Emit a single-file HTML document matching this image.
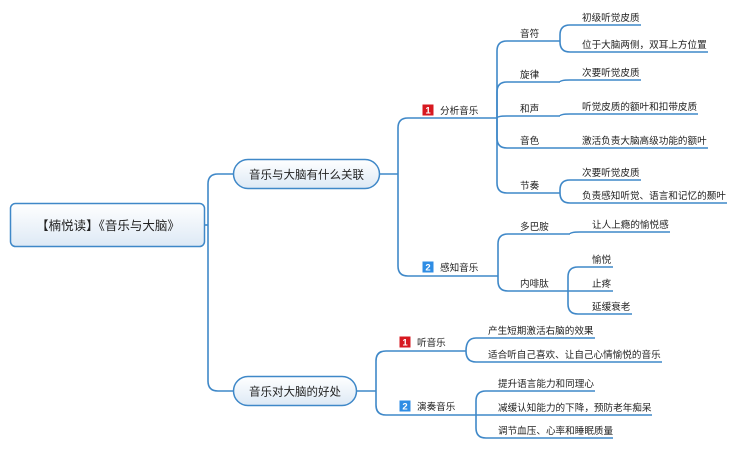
<!DOCTYPE html>
<html><head><meta charset="utf-8"><style>
html,body{margin:0;padding:0;background:#fff;width:738px;height:450px;overflow:hidden}
svg text{font-family:"Liberation Sans","Noto Sans CJK SC",sans-serif;fill:#222}
</style></head><body>
<svg width="738" height="450" viewBox="0 0 738 450" xmlns="http://www.w3.org/2000/svg">
<defs>
<linearGradient id="g" x1="0" y1="0" x2="0" y2="1"><stop offset="0" stop-color="#ffffff"/><stop offset="1" stop-color="#dde9f5"/></linearGradient>
</defs>
<g fill="none" stroke="#3f88c8" stroke-width="1.6">
<path d="M205 225 H208"/>
<path d="M208 225 V184 Q208 174 218 174 H233"/>
<path d="M208 225 V381 Q208 391 218 391 H233"/>
<path d="M380 174 H398"/>
<path d="M398 174 V128 Q398 118 408 118 H497"/>
<path d="M398 174 V266 Q398 276 408 276 H498"/>
<path d="M497 118 V51 Q497 41 507 41 H560"/>
<path d="M497 118 V92 Q497 82 507 82 H560"/>
<path d="M497 118 Q497 116 507 116 H560"/>
<path d="M497 118 V138 Q497 148 507 148 H560"/>
<path d="M497 118 V183 Q497 193 507 193 H560"/>
<path d="M560 41 V35 Q560 25 570 25 H641"/>
<path d="M560 41 V42 Q560 52 570 52 H708"/>
<path d="M560 82 Q560 80 570 80 H641"/>
<path d="M560 116 Q560 114 570 114 H698"/>
<path d="M560 148 H708"/>
<path d="M560 193 V190 Q560 180 570 180 H641"/>
<path d="M560 193 Q560 203 570 203 H727"/>
<path d="M498 276 V244 Q498 234 508 234 H570"/>
<path d="M498 276 V281 Q498 291 508 291 H568"/>
<path d="M570 234 Q570 232 580 232 H670"/>
<path d="M568 291 V277 Q568 267 578 267 H613"/>
<path d="M568 291 H613"/>
<path d="M568 291 V304 Q568 314 578 314 H632"/>
<path d="M357 391 H376"/>
<path d="M376 391 V361 Q376 351 386 351 H466"/>
<path d="M376 391 V405 Q376 415 386 415 H476"/>
<path d="M466 351 Q466 338 476 338 H595"/>
<path d="M466 351 Q466 362 476 362 H662"/>
<path d="M476 415 V401 Q476 391 486 391 H595"/>
<path d="M476 415 H652"/>
<path d="M476 415 V428 Q476 438 486 438 H613"/>
</g>
<rect x="10.5" y="203.5" width="194" height="43" rx="5" fill="url(#g)" stroke="#3f88c8" stroke-width="1.5"/>
<text x="108" y="230" font-size="12.5" text-anchor="middle">【楠悦读】《音乐与大脑》</text>
<rect x="233.5" y="159.5" width="146" height="29" rx="14.5" fill="url(#g)" stroke="#3f88c8" stroke-width="1.5"/>
<text x="306.5" y="178.5" font-size="11.5" text-anchor="middle">音乐与大脑有什么关联</text>
<rect x="233.5" y="376.5" width="123" height="29" rx="14.5" fill="url(#g)" stroke="#3f88c8" stroke-width="1.5"/>
<text x="295" y="395.5" font-size="11.5" text-anchor="middle">音乐对大脑的好处</text>
<g font-size="9.5" font-weight="bold" text-anchor="middle">
<rect x="422.5" y="104.5" width="11" height="11" fill="#d71920"/><text x="428" y="113.5" style="fill:#fff">1</text>
<rect x="422.5" y="261.5" width="11" height="11" fill="#2f8de4"/><text x="428" y="270.5" style="fill:#fff">2</text>
<rect x="399.5" y="336.5" width="11" height="11" fill="#d71920"/><text x="405" y="345.5" style="fill:#fff">1</text>
<rect x="399.5" y="400.5" width="11" height="11" fill="#2f8de4"/><text x="405" y="409.5" style="fill:#fff">2</text>
</g>
<g font-size="9.6">
<text x="440" y="114">分析音乐</text>
<text x="440" y="271">感知音乐</text>
<text x="417" y="346">听音乐</text>
<text x="417" y="410">演奏音乐</text>
<text x="520" y="37">音符</text>
<text x="520" y="78">旋律</text>
<text x="520" y="112">和声</text>
<text x="520" y="144">音色</text>
<text x="520" y="189">节奏</text>
<text x="582" y="21">初级听觉皮质</text>
<text x="582" y="48">位于大脑两侧，双耳上方位置</text>
<text x="582" y="76">次要听觉皮质</text>
<text x="582" y="110">听觉皮质的额叶和扣带皮质</text>
<text x="582" y="144">激活负责大脑高级功能的额叶</text>
<text x="582" y="176">次要听觉皮质</text>
<text x="582" y="199">负责感知听觉、语言和记忆的颞叶</text>
<text x="520" y="230">多巴胺</text>
<text x="520" y="287">内啡肽</text>
<text x="592" y="228">让人上瘾的愉悦感</text>
<text x="592" y="263">愉悦</text>
<text x="592" y="287">止疼</text>
<text x="592" y="310">延缓衰老</text>
<text x="488" y="334">产生短期激活右脑的效果</text>
<text x="488" y="358">适合听自己喜欢、让自己心情愉悦的音乐</text>
<text x="498" y="387">提升语言能力和同理心</text>
<text x="498" y="411">减缓认知能力的下降，预防老年痴呆</text>
<text x="498" y="434">调节血压、心率和睡眠质量</text>
</g>
</svg>
</body></html>
